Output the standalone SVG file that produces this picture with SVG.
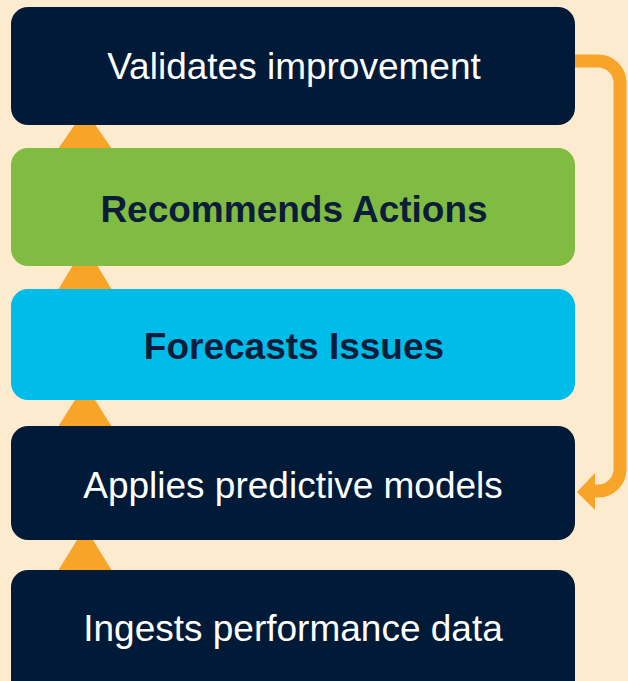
<svg xmlns="http://www.w3.org/2000/svg" width="628" height="681" viewBox="0 0 628 681">
<style>
.box{stroke:none}
.dark{fill:#001a38}
.green{fill:#80bc41}
.blue{fill:#00bce8}
.lt{font-family:"Liberation Sans",Arial,sans-serif;font-size:37px;fill:#ffffff;text-anchor:middle}
.bt{font-family:"Liberation Sans",Arial,sans-serif;font-size:37px;font-weight:bold;fill:#0b1d3a;text-anchor:middle}
.tri{fill:#f7a428}
.conn{fill:none;stroke:#f7a428;stroke-width:13}
</style>
<rect width="628" height="681" fill="#fdebd0"/>
<g id="connectors">
<polygon class="tri" points="85,110 58,149 112,149"/>
<polygon class="tri" points="85,245 58,290 112,290"/>
<polygon class="tri" points="85,384 58,427 112,427"/>
<polygon class="tri" points="85,527 58,571 112,571"/>
<path class="conn" d="M575,61 H598 A22,22 0 0 1 620,83 V469 A22,22 0 0 1 598,491 H590"/>
<polygon class="tri" points="577,492 595,473 595,510"/>
</g>
<g id="n1"><rect class="box dark" x="11" y="7" width="564" height="118" rx="17"/><text class="lt" x="294" y="79">Validates improvement</text></g>
<g id="n2"><rect class="box green" x="11" y="148" width="564" height="118" rx="17"/><text class="bt" x="294" y="222">Recommends Actions</text></g>
<g id="n3"><rect class="box blue" x="11" y="289" width="564" height="111" rx="17"/><text class="bt" x="294" y="359">Forecasts Issues</text></g>
<g id="n4"><rect class="box dark" x="11" y="426" width="564" height="114" rx="17"/><text class="lt" x="293" y="498">Applies predictive models</text></g>
<g id="n5"><rect class="box dark" x="11" y="570" width="564" height="128" rx="17"/><text class="lt" x="293" y="641">Ingests performance data</text></g>
</svg>
